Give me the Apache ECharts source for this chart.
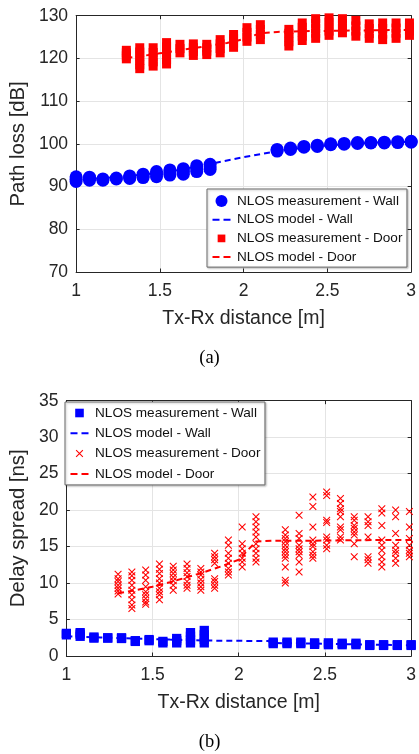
<!DOCTYPE html>
<html><head><meta charset="utf-8">
<script src="https://cdn.jsdelivr.net/npm/echarts@6/dist/echarts.min.js"></script>
<style>html,body{margin:0;padding:0;background:#fff}#c{width:419px;height:754px}</style>
</head><body><div id="c"></div>
<script>
// ---------- data ----------
const wallDist = [1.00,1.08,1.16,1.24,1.32,1.40,1.48,1.56,1.64,1.72,1.80,2.20,2.28,2.36,2.44,2.52,2.60,2.68,2.76,2.84,2.92,3.00];
const doorDist = [1.30,1.38,1.46,1.54,1.62,1.70,1.78,1.86,1.94,2.02,2.10,2.27,2.35,2.43,2.51,2.59,2.67,2.75,2.83,2.91,2.99];

// (a) path loss [dB]
const wallPL = [[91.2,91.7,92.3],[91.5,91.9,92.2],[91.5,91.8],[91.8,92.0],[91.9,92.2,92.5],[92.1,92.5,92.9],[92.3,92.9,93.5],[92.7,93.3,93.9],[92.9,93.6,94.2],[93.5,94.2,94.9],[94.0,94.6,95.2],
  [98.3,98.7],[98.7,99.0],[99.2,99.4],[99.4,99.7],[99.8,100.0],[99.9,100.1],[100.1,100.3],[100.2,100.3],[100.2,100.4],[100.3,100.5],[100.4,100.6]];
const doorPL = [[119.9,120.6,121.3,121.9],[117.6,118.5,119.5,120.5,121.5,122.5],[118.2,119.2,120.3,121.4,122.5],[118.7,119.7,120.7,121.7,122.7,123.7],[121.3,122.3,123.3],[120.7,121.6,122.5,123.4],[120.9,121.7,122.5,123.3],[121.3,122.3,123.4,124.4],[122.6,123.6,124.6,125.6],[124.0,125.0,126.1,127.2],[124.4,125.6,126.8,127.9],
  [122.9,123.9,124.9,125.9,126.8],[124.2,125.2,126.2,127.3,128.3],[124.7,125.9,127.0,128.2,129.3],[125.4,126.4,127.4,128.5,129.5],[126.0,127.1,128.2,129.3],[125.2,126.4,127.6,128.9],[124.7,125.8,127.0,128.1],[124.4,125.7,127.0,128.3],[124.7,125.9,127.1,128.3],[125.4,126.4,127.4,128.3]];
const wallPLModelX = [1.0,1.2,1.4,1.6,1.8,2.0,2.2,2.4,2.6,2.8,3.0];
const wallPLModelY = [91.6,92.1,92.8,93.8,95.3,96.9,98.3,99.3,99.9,100.3,100.5];
const doorPLModelX = [1.30,1.40,1.50,1.60,1.70,1.80,1.90,2.00,2.10,2.20,2.40,2.60,2.80,3.00];
const doorPLModelY = [120.1,120.6,121.2,121.8,122.4,123.0,123.6,124.5,125.9,126.2,126.4,126.5,126.6,126.7];

// (b) delay spread [ns]
const wallDS = [[2.9,3.1],[2.7,3.0,3.2],[2.45,2.6],[2.45,2.5],[2.4,2.5],[2.0,2.1],[2.1,2.25],[1.8,2.0],[1.8,2.1,2.4],[1.8,2.2,2.7,3.2],[1.8,2.3,2.9,3.5],
  [1.7,1.9],[1.7,1.9],[1.7,1.9],[1.6,1.8],[1.55,1.8],[1.55,1.75],[1.55,1.75],[1.45,1.55],[1.45,1.55],[1.45,1.55],[1.45,1.55]];
const doorDS = [[11.2,10.6,10.2,9.7,9.3,8.9,8.5],[11.5,11.0,10.4,9.7,9.0,8.4,7.7,7.0,6.5],[11.8,11.1,10.4,9.5,8.8,8.4,7.9,7.4,7.1],[12.6,11.9,11.3,10.6,10.0,9.3,8.8,8.4,7.7],[12.3,11.8,11.3,10.8,10.3,9.7,9.0],[12.6,12.0,11.4,10.9,10.2,9.7,9.3],[12.0,11.5,11.1,10.5,10.0,9.5,9.0],[14.1,13.6,13.2,12.7,10.6,10.2,9.7,9.3],[15.9,15.2,14.1,13.4,12.7,12.0,11.5,11.1],[17.7,15.4,14.7,14.1,13.4,12.9,12.2],[19.1,18.4,17.7,17.0,16.3,15.4,14.7,14.1,13.4,12.9],
  [17.3,16.6,16.1,15.7,15.2,14.7,14.3,13.8,13.4,12.2,10.4,10.0],[19.3,16.8,16.1,15.2,14.7,14.3,13.8,12.9,11.5],[21.8,20.5,17.7,15.9,15.4,15.0,14.3,13.8,13.4],[22.5,22.0,18.6,18.3,16.3,15.9,15.2,14.7],[21.6,20.9,20.2,19.8,19.1,17.7,17.3,16.3,15.9],[19.1,18.6,17.9,17.5,17.0,16.6,15.4,13.6],[19.1,18.4,17.9,16.3,13.6,13.2,12.7],[20.2,19.6,17.9,15.9,15.2,14.5,13.6,12.9,12.2],[20.0,19.1,16.8,15.2,14.5,14.1,13.4,12.7],[19.8,17.7,16.1,15.2,14.5,14.1,13.6]];
const wallDSModelX = [1.0,1.2,1.4,1.6,1.8,2.0,2.17,2.2,2.4,2.6,2.8,3.0];
const wallDSModelY = [2.7,2.55,2.4,2.25,2.12,2.08,2.05,1.78,1.72,1.63,1.55,1.48];
const doorDSModelX = [1.30,1.40,1.50,1.60,1.70,1.80,1.90,2.00,2.10,2.20,2.40,2.60,2.80,3.00];
const doorDSModelY = [8.6,9.0,9.5,10.1,10.8,11.5,12.3,13.2,15.7,15.8,15.8,15.85,15.9,15.9];

// axes
const xRange = [1, 3, 0.5];
const plRange = [70, 130, 10];
const dsRange = [0, 35, 5];
const names = ['NLOS measurement - Wall','NLOS model - Wall','NLOS measurement - Door','NLOS model - Door'];
const xName = 'Tx-Rx distance [m]';
const plName = 'Path loss [dB]';
const dsName = 'Delay spread [ns]';
const captions = ['(a)','(b)'];

// ---------- build ----------
function pts(d, vals){ const o=[]; d.forEach((x,i)=>vals[i].forEach(v=>o.push([x,v]))); return o; }
function line(xs, ys){ return xs.map((x,i)=>[x, ys[i]]); }

const FONT = '"Liberation Sans", Arial, Helvetica, sans-serif';
const AX = '#262626';
const BLUE = '#0000ff', RED = '#ff0000';
const CROSS = 'path://M1,0L10,9L9,10L0,1ZM9,0L10,1L1,10L0,9Z';
const BB = 'M0,0L0,0M21,14L21,14';
const icCircle = 'path://' + BB + 'M4.5,7A6,6 0 1 0 16.5,7A6,6 0 1 0 4.5,7Z';
const icDash = 'path://' + BB + 'M1.5,6L8.5,6L8.5,8L1.5,8ZM12.5,6L19.5,6L19.5,8L12.5,8Z';
const icSqSmall = 'path://' + BB + 'M6.65,3.15L14.35,3.15L14.35,10.85L6.65,10.85Z';
const icSq = 'path://' + BB + 'M6.2,2.7L14.8,2.7L14.8,11.3L6.2,11.3Z';
const icCross = 'path://' + BB + 'M7.5,3.25L14.25,10L13.5,10.75L6.75,4ZM13.5,3.25L14.25,4L7.5,10.75L6.75,10Z';

function xAxes(grid, main){
  const base = {type:'value', gridIndex:grid, min:xRange[0], max:xRange[1], interval:xRange[2],
    axisLine:{show:true, onZero:false, lineStyle:{color:AX, width:1}},
    axisTick:{show:true, inside:true, length:3.5, lineStyle:{color:AX}}};
  return [
    Object.assign({}, base, {position:'bottom',
      axisLabel:{show:true, margin:10.5, fontSize:17.5, color:AX, fontFamily:FONT},
      splitLine:{show:true, lineStyle:{color:'#e4e4e4', width:1}},
      name:xName, nameLocation:'middle', nameGap:36.8,
      nameTextStyle:{fontSize:19.5, color:AX, fontFamily:FONT}}),
    Object.assign({}, base, {position:'top', axisLabel:{show:false}, splitLine:{show:false}})
  ];
}
function yAxes(grid, r, name, gap){
  const base = {type:'value', gridIndex:grid, min:r[0], max:r[1], interval:r[2],
    axisLine:{show:true, onZero:false, lineStyle:{color:AX, width:1}},
    axisTick:{show:true, inside:true, length:3.5, lineStyle:{color:AX}}};
  return [
    Object.assign({}, base, {position:'left',
      axisLabel:{show:true, margin:8, fontSize:17.5, color:AX, fontFamily:FONT},
      splitLine:{show:true, lineStyle:{color:'#e4e4e4', width:1}},
      name:name, nameLocation:'middle', nameGap:gap,
      nameTextStyle:{fontSize:20.3, color:AX, fontFamily:FONT}}),
    Object.assign({}, base, {position:'right', axisLabel:{show:false}, splitLine:{show:false}})
  ];
}
const dashStyle = c => ({color:c, width:2, type:[6,4]});

const legendBase = {orient:'vertical', itemWidth:21, itemHeight:14, selectedMode:false,
  backgroundColor:'#fff', borderColor:'#6a6a6a', borderWidth:1,
  shadowColor:'rgba(0,0,0,0.25)', shadowBlur:2, shadowOffsetX:1, shadowOffsetY:1,
  itemStyle:{borderWidth:0},
  textStyle:{fontSize:13.6, color:'#111', fontFamily:FONT}};

const option = {
  animation:false,
  backgroundColor:'#fff',
  grid:[
    {left:71.7, top:15.7, width:339.6, height:256.3, containLabel:false},
    {left:62.3, top:400.7, width:349, height:255.3, containLabel:false}
  ],
  xAxis:[...xAxes(0), ...xAxes(1)].map((a,i)=> i===2 ? Object.assign(a,{nameGap:36.5}) : a),
  yAxis:[...yAxes(0, plRange, plName, 44.6), ...yAxes(1, dsRange, dsName, 34.2)],
  legend:[
    Object.assign({}, legendBase, {left:207, top:189, itemGap:4.7, padding:[5,4.5,3,4],
      data:[
        {name:names[0], icon:icCircle, itemStyle:{color:BLUE, borderWidth:0}},
        {name:names[1], icon:icDash, itemStyle:{color:BLUE, borderWidth:0}},
        {name:names[2], icon:icSqSmall, itemStyle:{color:RED, borderWidth:0}},
        {name:names[3], icon:icDash, itemStyle:{color:RED, borderWidth:0}}]}),
    Object.assign({}, legendBase, {left:65, top:402, itemGap:6.3, padding:[4,4.5,4,4],
      data:[
        {name:names[0], icon:icSq, itemStyle:{color:BLUE, borderWidth:0}},
        {name:names[1], icon:icDash, itemStyle:{color:BLUE, borderWidth:0}},
        {name:names[2], icon:icCross, itemStyle:{color:RED, borderWidth:0}},
        {name:names[3], icon:icDash, itemStyle:{color:RED, borderWidth:0}}]})
  ],
  graphic:[
    {type:'text', left:'center', top:349, style:{text:captions[0], font:'18.5px "Liberation Serif", "Times New Roman", serif', fill:'#000'}},
    {type:'text', left:'center', top:733, style:{text:captions[1], font:'18.5px "Liberation Serif", "Times New Roman", serif', fill:'#000'}}
  ],
  series:[
    {name:names[0], type:'scatter', xAxisIndex:0, yAxisIndex:0, symbol:'circle', symbolSize:13,
      itemStyle:{color:BLUE, opacity:1}, data:pts(wallDist, wallPL)},
    {name:names[1], type:'line', xAxisIndex:0, yAxisIndex:0, showSymbol:false, symbol:'none',
      lineStyle:dashStyle(BLUE), data:line(wallPLModelX, wallPLModelY)},
    {name:names[2], type:'scatter', xAxisIndex:0, yAxisIndex:0, symbol:'rect', symbolSize:9,
      itemStyle:{color:RED, opacity:1}, data:pts(doorDist, doorPL)},
    {name:names[3], type:'line', xAxisIndex:0, yAxisIndex:0, showSymbol:false, symbol:'none',
      lineStyle:dashStyle(RED), data:line(doorPLModelX, doorPLModelY)},

    {name:names[0], type:'scatter', xAxisIndex:2, yAxisIndex:2, symbol:'rect', symbolSize:9.3,
      itemStyle:{color:BLUE, opacity:1}, data:pts(wallDist, wallDS)},
    {name:names[1], type:'line', xAxisIndex:2, yAxisIndex:2, showSymbol:false, symbol:'none',
      lineStyle:dashStyle(BLUE), data:line(wallDSModelX, wallDSModelY)},
    {name:names[2], type:'scatter', xAxisIndex:2, yAxisIndex:2, symbol:CROSS, symbolSize:7.5,
      itemStyle:{color:RED, opacity:1}, data:pts(doorDist, doorDS)},
    {name:names[3], type:'line', xAxisIndex:2, yAxisIndex:2, showSymbol:false, symbol:'none',
      lineStyle:dashStyle(RED), data:line(doorDSModelX, doorDSModelY)}
  ]
};
const chart = echarts.init(document.getElementById('c'), null, {renderer:'canvas'});
chart.setOption(option);
</script>
</body></html>
